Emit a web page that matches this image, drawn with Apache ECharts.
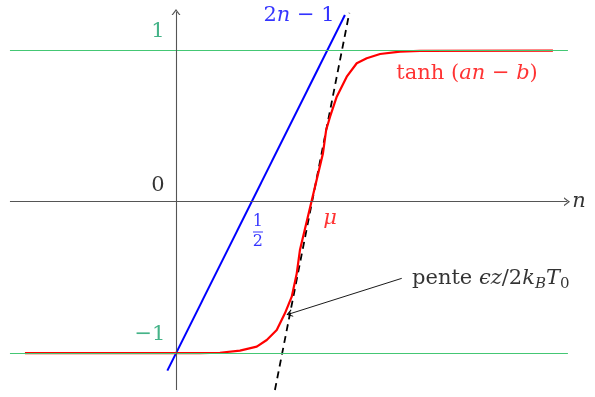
<!DOCTYPE html>
<html>
<head>
<meta charset="utf-8">
<script src="https://cdn.jsdelivr.net/npm/echarts@6/dist/echarts.min.js"></script>
<style>
  html, body { margin: 0; padding: 0; background: #fff; }
  #main { width: 595px; height: 397px; }
</style>
</head>
<body>
<div id="main"></div>
<script>
// valeurs (n, y)
var tanhN = [-0.997, 0.158, 0.290, 0.422, 0.533, 0.599, 0.665, 0.719, 0.764, 0.797, 0.818, 0.894,
             0.970, 0.991, 1.017, 1.061, 1.127, 1.193, 1.259, 1.347, 1.479, 1.611, 2.488];
var tanhY = [-1.0, -0.999, -0.997, -0.983, -0.957, -0.913, -0.847, -0.737, -0.627, -0.473, -0.319, 0.0,
             0.319, 0.473, 0.561, 0.693, 0.825, 0.914, 0.947, 0.975, 0.991, 0.995, 0.997];
var lineN = [-0.057, 1.115];          // droite 2n - 1
var lineY = [-1.115, 1.232];
var tangentN = [0.653, 1.144];        // tangente en mu
var tangentY = [-1.243, 1.246];
var levels = [1, -1];                 // asymptotes
var levelN = [-1.096, 2.587];
var axisN = [-1.096, 2.581];          // axe des n
var axisY = [-1.243, 1.252];          // axe vertical

// cadrage : origine en pixels et echelle
var X0 = 176, Y0 = 201.7, S = 151.5, W = 595, H = 397;

var serif = "'DejaVu Serif', 'Liberation Serif', serif";
var chevron = 'path://M0,10 L5,0 L10,10 L8.4,10 L5,3.4 L1.6,10 Z';

function pts(xs, ys) {
  return xs.map(function (x, i) { return [x, ys[i]]; });
}

function txt(n, y, fmt, color, rich, align) {
  return {
    value: [n, y],
    label: {
      show: true,
      position: 'inside',
      align: align || 'center',
      verticalAlign: 'middle',
      formatter: fmt,
      color: color,
      fontFamily: serif,
      fontSize: 21,
      rich: rich
    }
  };
}

function mathRich(color) {
  return {
    r: { fontFamily: serif, fontSize: 21, color: color },
    i: { fontFamily: serif, fontSize: 21, fontStyle: 'italic', color: color },
    s: { fontFamily: serif, fontSize: 15, fontStyle: 'italic', color: color, padding: [12, 0, 0, 0] },
    s0: { fontFamily: serif, fontSize: 15, color: color, padding: [12, 0, 0, 0] },
    f: { fontFamily: serif, fontSize: 16, color: color, align: 'center', lineHeight: 17 },
    bar: { width: 10, height: 1, backgroundColor: color, lineHeight: 3 }
  };
}

var myChart = echarts.init(document.getElementById('main'));

var option = {
  animation: false,
  backgroundColor: '#fff',
  grid: { left: 0, right: 0, top: 0, bottom: 0 },
  xAxis: { type: 'value', min: -X0 / S, max: (W - X0) / S, show: false },
  yAxis: { type: 'value', min: (Y0 - H) / S, max: Y0 / S, show: false },
  series: [
    {
      // asymptotes y = 1 et y = -1
      type: 'line',
      symbol: 'none',
      silent: true,
      data: [],
      markLine: {
        silent: true,
        symbol: ['none', 'none'],
        label: { show: false },
        lineStyle: { color: '#44c774', width: 1.1, type: 'solid' },
        data: levels.map(function (l) {
          return [{ coord: [levelN[0], l] }, { coord: [levelN[1], l] }];
        })
      }
    },
    {
      // axes
      type: 'line',
      symbol: 'none',
      silent: true,
      data: [],
      markLine: {
        silent: true,
        symbol: ['none', chevron],
        symbolSize: [9, 6],
        label: { show: false },
        lineStyle: { color: '#555', width: 1.1, type: 'solid' },
        data: [
          [{ coord: [axisN[0], 0] }, { coord: [axisN[1], 0] }],
          [{ coord: [0, axisY[0]] }, { coord: [0, axisY[1]] }]
        ]
      }
    },
    {
      name: '2n-1',
      type: 'line',
      symbol: 'none',
      data: pts(lineN, lineY),
      lineStyle: { color: '#0000ff', width: 2 }
    },
    {
      name: 'pente',
      type: 'line',
      symbol: 'none',
      data: pts(tangentN, tangentY),
      lineStyle: { color: '#000', width: 1.8, type: [7, 5] }
    },
    {
      name: 'tanh',
      type: 'line',
      symbol: 'none',
      data: pts(tanhN, tanhY),
      lineStyle: { color: '#ff0000', width: 2.2 }
    },
    {
      // fleche d'annotation
      type: 'line',
      symbol: 'none',
      silent: true,
      data: [],
      markLine: {
        silent: true,
        symbol: ['none', chevron],
        symbolSize: [8, 6],
        label: { show: false },
        lineStyle: { color: '#000', width: 0.9, type: 'solid' },
        data: [[{ coord: [1.490, -0.506] }, { coord: [0.748, -0.741] }]]
      }
    },
    {
      // textes
      type: 'scatter',
      symbolSize: 0,
      silent: true,
      data: [
        txt(-0.119, 0.104, '0', '#000'),
        txt(-0.119, 1.12, '1', '#17a06a'),
        txt(-0.172, -0.88, '−1', '#17a06a'),
        txt(2.66, 0.0, '{i|n}', '#000', mathRich('#000')),
        txt(0.812, 1.232, '{r|2}{i|n}{r| − 1}', '#0000ff', mathRich('#0000ff')),
        txt(1.921, 0.843, '{r|tanh (}{i|an}{r| − }{i|b}{r|)}', '#ff0000', mathRich('#ff0000')),
        txt(1.017, -0.108, '{i|μ}', '#ff0000', mathRich('#ff0000')),
        txt(0.541, -0.2, '{f|1}\n{bar|}\n{f|2}', '#0000ff', mathRich('#0000ff')),
        txt(1.558, -0.505, '{r|pente }{i|ϵz}{r|/2}{i|k}{s|B}{i|T}{s0|0}', '#000', mathRich('#000'), 'left')
      ]
    }
  ]
};

myChart.setOption(option);
</script>
</body>
</html>
